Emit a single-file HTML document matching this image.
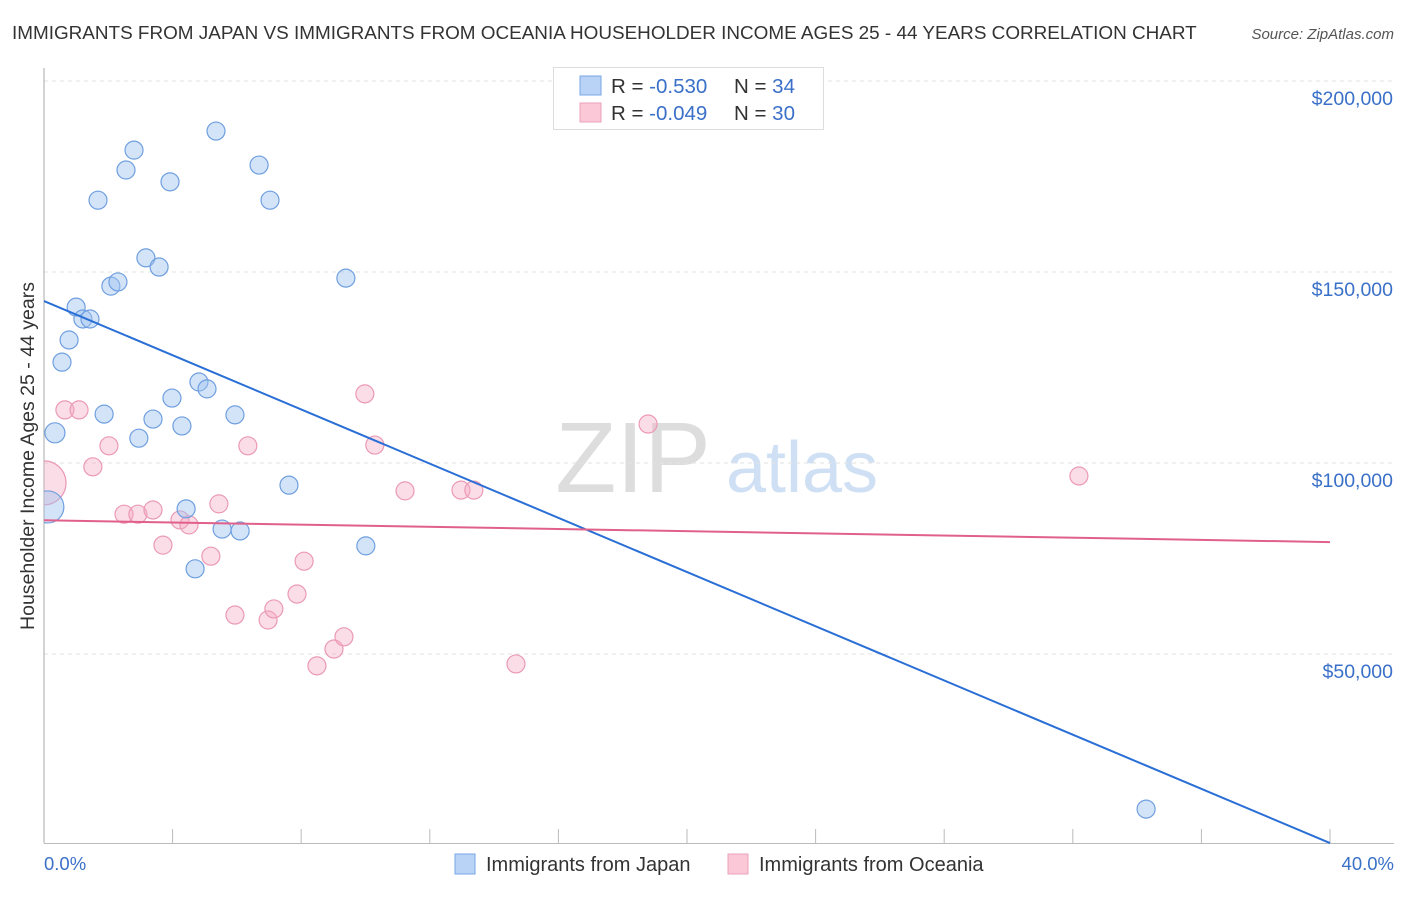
<!DOCTYPE html>
<html><head><meta charset="utf-8"><style>
body{margin:0;background:#fff;font-family:"Liberation Sans",sans-serif}
svg text{font-family:"Liberation Sans",sans-serif}
</style></head><body>
<svg width="1406" height="892" viewBox="0 0 1406 892">
<text x="12" y="39" font-size="18.9" fill="#333">IMMIGRANTS FROM JAPAN VS IMMIGRANTS FROM OCEANIA HOUSEHOLDER INCOME AGES 25 - 44 YEARS CORRELATION CHART</text>
<text x="1394" y="39" font-size="15" fill="#555" font-style="italic" text-anchor="end">Source: ZipAtlas.com</text>
<g><text x="633" y="492" font-size="100" fill="#ddd" font-family="Liberation Serif" text-anchor="middle">ZIP</text><text x="802" y="492" font-size="72" fill="#cfe0f5" text-anchor="middle">atlas</text></g>
<g id="grid"></g>
<g id="yticks"></g>
<g id="xaxis"></g>
<text transform="translate(34,456) rotate(-90)" font-size="19.5" fill="#333" text-anchor="middle">Householder Income Ages 25 - 44 years</text>
<defs><clipPath id="clip"><rect x="44" y="60" width="1362" height="785"/></clipPath></defs>
<g id="plot" clip-path="url(#clip)"></g>
<g>
<rect x="553.5" y="67.5" width="270" height="62" fill="#fff" stroke="#ddd"/>
<rect x="580" y="76" width="21" height="19" fill="#b8d3f5" stroke="#7aa6e6"/>
<rect x="580" y="103" width="21" height="19" fill="#fbc8d7" stroke="#eda0b8"/>
<text x="611" y="93" font-size="20.5" fill="#333">R = <tspan fill="#3a70c8">-0.530</tspan><tspan x="734">N = </tspan><tspan fill="#3a70c8">34</tspan></text>
<text x="611" y="120" font-size="20.5" fill="#333">R = <tspan fill="#3a70c8">-0.049</tspan><tspan x="734">N = </tspan><tspan fill="#3a70c8">30</tspan></text>
</g>
<g>
<rect x="455" y="854" width="20" height="20" fill="#b8d3f5" stroke="#7aa6e6"/>
<text x="486" y="871" font-size="20" fill="#333">Immigrants from Japan</text>
<rect x="728" y="854" width="20" height="20" fill="#fbc8d7" stroke="#eda0b8"/>
<text x="759" y="871" font-size="20" fill="#333">Immigrants from Oceania</text>
</g>
</svg>
<script>
const yTicks=[50000,100000,150000,200000];
const yTickLabels=["$50,000","$100,000","$150,000","$200,000"];
const xTickLabels=["0.0%","40.0%"];
const japanX=[0.12,0.34,0.56,0.78,1.0,1.21,1.43,1.68,1.87,2.08,2.30,2.55,2.80,2.95,3.17,3.39,3.58,3.92,3.98,4.29,4.42,4.70,4.82,5.07,5.35,5.54,5.94,6.10,6.69,7.03,7.62,9.39,10.01,34.28];
const japanY=[88500,107900,126400,132200,140800,137700,137700,168800,112800,146300,147400,176700,181900,106500,153700,111500,151300,173600,117000,109700,88000,72300,121200,119400,186900,82700,112600,82200,178000,168800,94200,148400,78300,9400];
const japanR=[16,10,9,9,9,9,9,9,9,9,9,9,9,9,9,9,9,9,9,9,9,9,9,9,9,9,9,9,9,9,9,9,9,9];
const oceX=[0.0,0.65,1.09,1.52,2.02,2.49,2.92,3.39,3.70,4.23,4.51,5.19,5.44,5.94,6.34,6.97,7.15,7.87,8.09,8.49,9.02,9.33,9.98,10.29,11.23,12.97,13.37,14.68,18.79,32.19];
const oceY=[94800,113900,113900,99000,104500,86600,86600,87700,78500,85100,83800,75600,89300,60200,104500,58900,61800,65700,74300,46900,51300,54500,118100,104700,92700,92900,92900,47400,110200,96600];
const oceR=[22,9,9,9,9,9,9,9,9,9,9,9,9,9,9,9,9,9,9,9,9,9,9,9,9,9,9,9,9,9];
const japanTrend=[142400,500];
const oceTrend=[85000,79300];
const X0=44,X1=1330,Y0=845,PX=191/50000;
const sx=v=>X0+(X1-X0)*v/40;
const sy=v=>Y0-v*PX;
const NS="http://www.w3.org/2000/svg";
function mk(t,a,p){const e=document.createElementNS(NS,t);for(const k in a)e.setAttribute(k,a[k]);p.appendChild(e);return e;}
const grid=document.getElementById('grid'),yt=document.getElementById('yticks'),xa=document.getElementById('xaxis'),plot=document.getElementById('plot');
yTicks.forEach((v,i)=>{
 const l=mk('line',{x1:44,x2:1394,y1:sy(v),y2:sy(v),stroke:'#e2e2e2','stroke-dasharray':'4,4'},grid);
 
 
 const t=mk('text',{x:1393,y:sy(v)+24,'font-size':19.5,fill:'#3a70c8','text-anchor':'end'},yt);
 t.textContent=yTickLabels[i];
 
 
});
mk('line',{x1:44,x2:44,y1:68,y2:843,stroke:'#aaa'},xa);
mk('line',{x1:44,x2:1394,y1:843.5,y2:843.5,stroke:'#bbb'},xa);
for(let i=1;i<=10;i++){const x=sx(i*4);mk('line',{x1:x,x2:x,y1:829,y2:843,stroke:'#bbb'},xa);}
[[0,'start',44],[40,'end',1394]].forEach((d,i)=>{const t=mk('text',{x:d[2],y:870,'font-size':18.5,fill:'#3a70c8','text-anchor':d[1]},xa);t.textContent=xTickLabels[i];
 
 });
oceX.forEach((v,i)=>{const c=mk('circle',{cx:sx(v),cy:sy(oceY[i]),r:oceR[i],fill:'rgba(245,170,195,0.4)',stroke:'#eb9ab4','stroke-width':1.2},plot);
 
 });
japanX.forEach((v,i)=>{const c=mk('circle',{cx:sx(v),cy:sy(japanY[i]),r:japanR[i],fill:'rgba(160,195,240,0.45)',stroke:'#6f9fe0','stroke-width':1.2},plot);
 
 });
const tb=mk('line',{x1:sx(0),y1:sy(japanTrend[0]),x2:sx(40),y2:sy(japanTrend[1]),stroke:'#2a6fd6','stroke-width':2},plot);


const tp=mk('line',{x1:sx(0),y1:sy(oceTrend[0]),x2:sx(40),y2:sy(oceTrend[1]),stroke:'#e0608a','stroke-width':2},plot);


</script>
</body></html>
